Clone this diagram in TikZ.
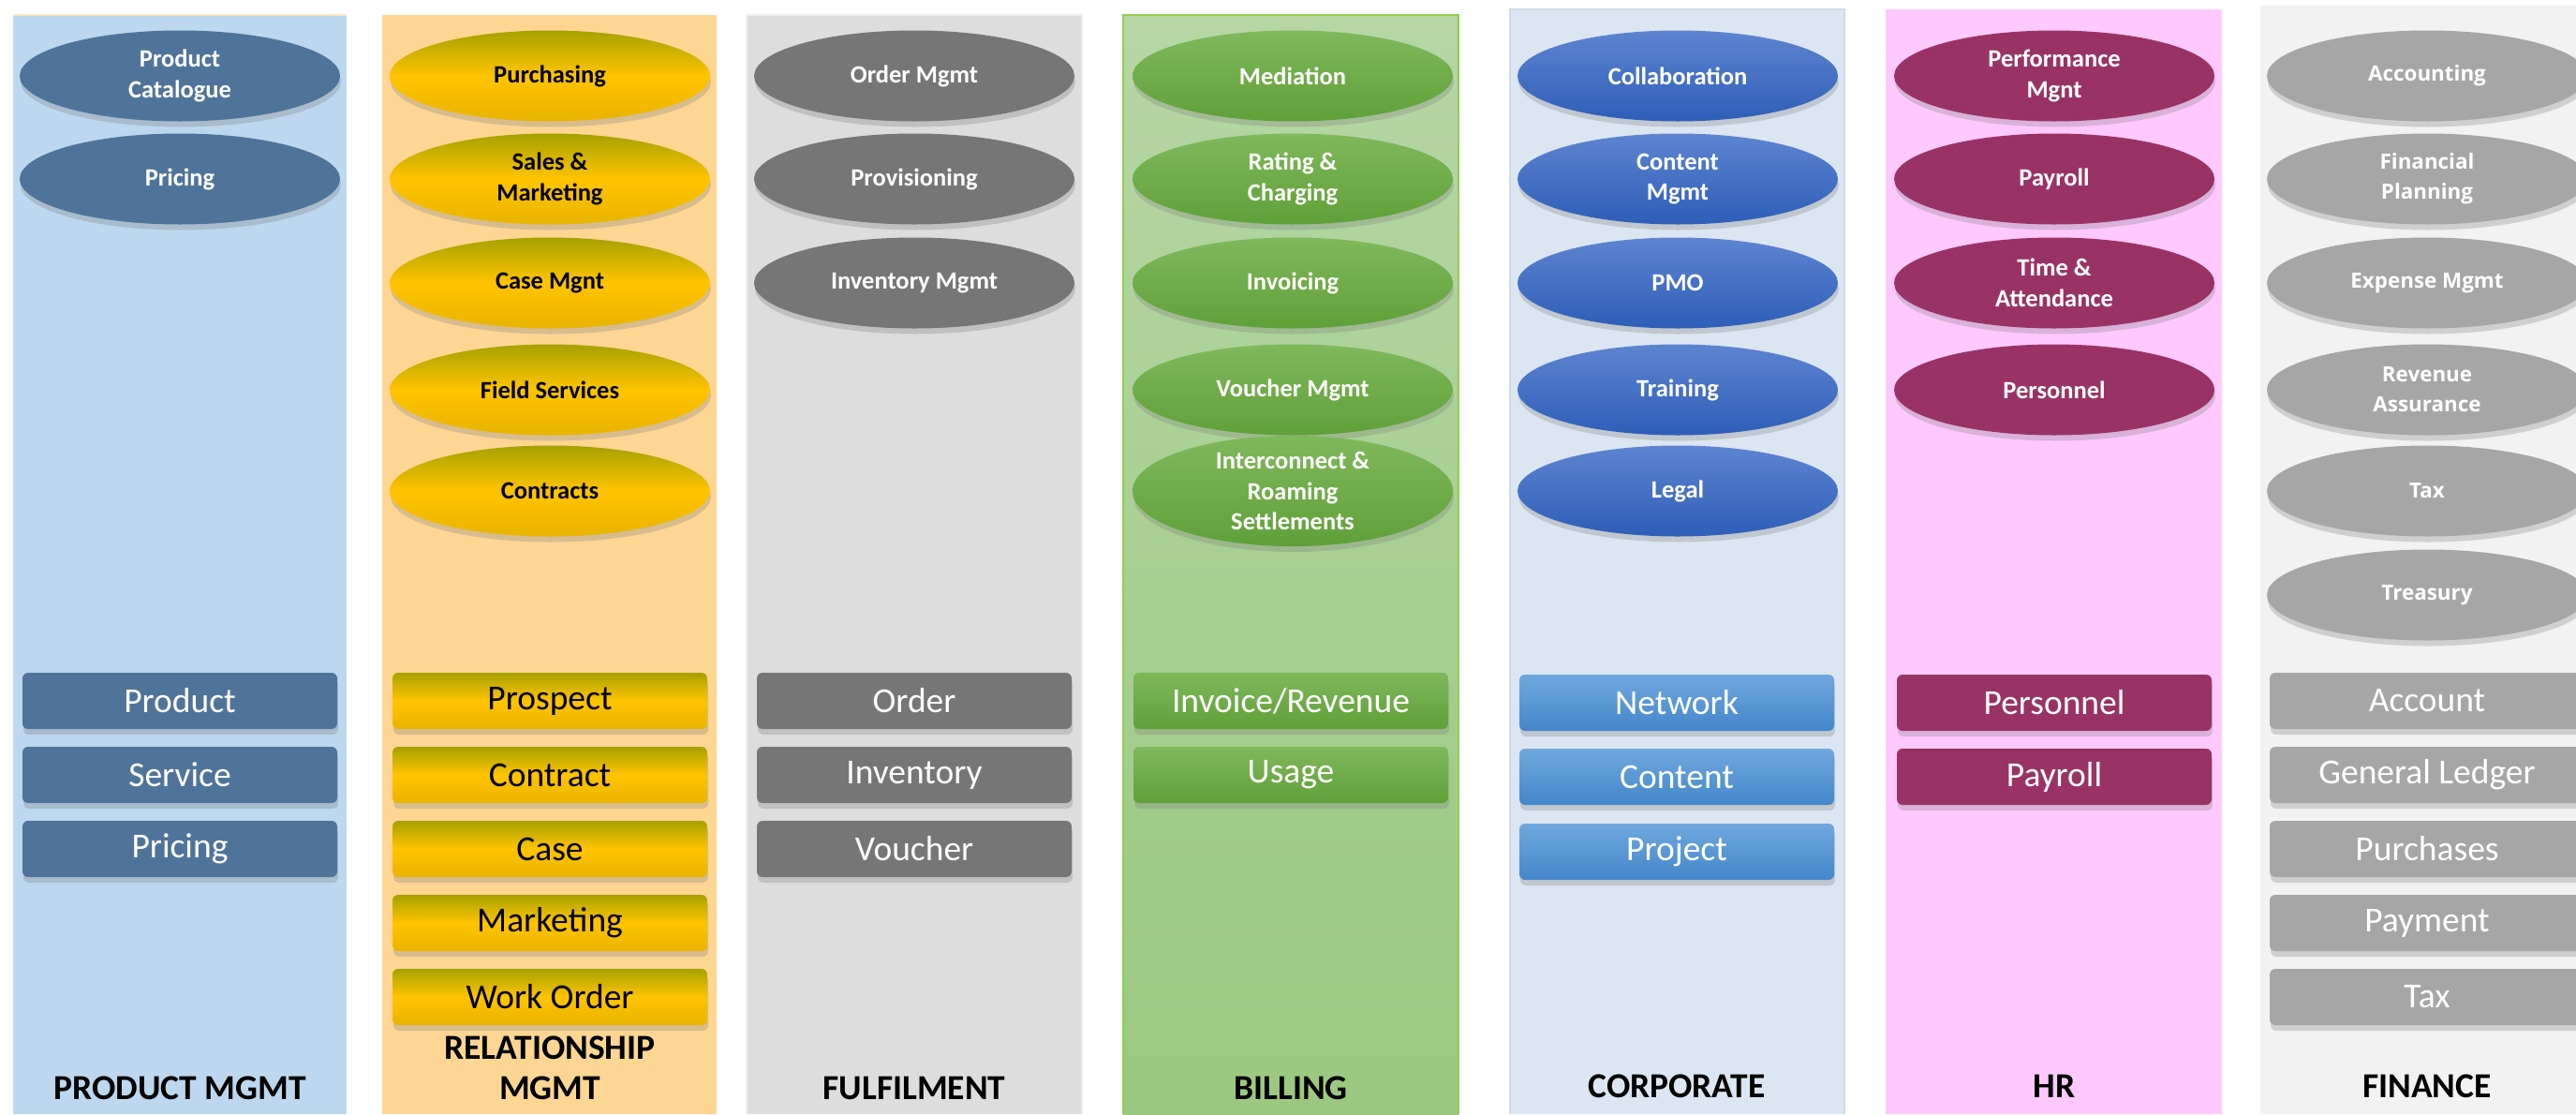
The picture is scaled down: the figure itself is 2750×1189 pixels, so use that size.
\documentclass[tikz,border=0pt]{standalone}
\usepackage{fontspec}
\setmainfont{Carlito}
\newfontfamily\finfont{Open Sans}
\usetikzlibrary{shapes.geometric,shadows}
\definecolor{pmbg}{RGB}{189,215,238}
\definecolor{pmfg}{RGB}{80,116,153}
\definecolor{rmbg}{RGB}{253,214,148}
\definecolor{rmtop}{RGB}{166,162,0}
\definecolor{rmmid}{RGB}{255,196,0}
\definecolor{rmbot}{RGB}{233,180,0}
\definecolor{fubg}{RGB}{221,221,221}
\definecolor{fufg}{RGB}{118,118,118}
\definecolor{bitop}{RGB}{182,214,166}
\definecolor{bibot}{RGB}{155,200,128}
\definecolor{biborder}{RGB}{146,208,80}
\definecolor{eltop}{RGB}{128,184,92}
\definecolor{elbot}{RGB}{96,160,56}
\definecolor{cobg}{RGB}{220,230,242}
\definecolor{coborder}{RGB}{210,218,228}
\definecolor{cotop}{RGB}{94,132,208}
\definecolor{cobot}{RGB}{46,94,184}
\definecolor{crtop}{RGB}{112,168,222}
\definecolor{crbot}{RGB}{68,134,202}
\definecolor{hrbg}{RGB}{255,201,255}
\definecolor{hrfg}{RGB}{153,51,102}
\definecolor{fibg}{RGB}{242,242,242}
\definecolor{fifg}{RGB}{166,166,166}
\tikzset{
  ellbase/.style={ellipse, minimum width=171pt, minimum height=48.5pt, inner sep=0pt,
    align=center, font=\bfseries\fontsize{13.25}{16.25}\selectfont, text=white,
    drop shadow={opacity=0.3, shadow xshift=0.5pt, shadow yshift=-3pt}},
  recbase/.style={rectangle, rounded corners=3pt, minimum width=168pt, minimum height=30pt,
    inner sep=0pt, align=center, font=\fontsize{18.75}{22}\selectfont, text=white,
    drop shadow={opacity=0.3, shadow xshift=0.5pt, shadow yshift=-3pt}},
  collabel/.style={align=center, font=\bfseries\fontsize{18.75}{21.5}\selectfont, text=black},
  pmE/.style={ellbase, fill=pmfg},
  pmR/.style={recbase, fill=pmfg},
  rmE/.style={ellbase, text=black, top color=rmtop, bottom color=rmbot, middle color=rmmid},
  rmR/.style={recbase, text=black, top color=rmtop, bottom color=rmbot, middle color=rmmid},
  fuE/.style={ellbase, fill=fufg},
  fuR/.style={recbase, fill=fufg},
  biE/.style={ellbase, top color=eltop, bottom color=elbot},
  biR/.style={recbase, top color=eltop, bottom color=elbot},
  coE/.style={ellbase, top color=cotop, bottom color=cobot},
  coR/.style={recbase, top color=crtop, bottom color=crbot},
  hrE/.style={ellbase, fill=hrfg},
  hrR/.style={recbase, fill=hrfg},
  fiE/.style={ellbase, fill=fifg, font=\finfont\bfseries\fontsize{11.2}{16}\selectfont},
  fiR/.style={recbase, fill=fifg},
}
\begin{document}
\begin{tikzpicture}[x=0.5pt,y=-0.5pt]
\useasboundingbox (0,0) rectangle (2750,1189);
\fill[white] (0,0) rectangle (2750,1189);
% column backgrounds
\fill[pmbg] (14,16) rectangle (370,1189);
\draw[line width=0.8pt, draw=rmbg!60] (14,16) -- (370,16);
\fill[rmbg] (408,16) rectangle (765,1189);
\fill[fubg] (797,16) rectangle (1155,1189);
\draw[line width=0.8pt, draw=fubg!50!white] (797,1189) -- (797,16) -- (1155,16) -- (1155,1189);
\shade[top color=bitop, bottom color=bibot] (1199,16) rectangle (1557,1189);
\draw[line width=1pt, draw=biborder] (1199,1189) -- (1199,16) -- (1557,16) -- (1557,1189);
\fill[cobg] (1612,10) rectangle (1969,1189);
\draw[line width=0.8pt, draw=coborder] (1612,1189) -- (1612,10) -- (1969,10) -- (1969,1189);
\fill[hrbg] (2013,10) rectangle (2372,1189);
\fill[fibg] (2413,6) rectangle (2769,1189);

% PRODUCT MGMT
\node[pmE] (pmA) at (192,81) {Product\\Catalogue};
\node[pmE] (pmB) at (192,191) {Pricing};
\node[pmR] (pmR1) at (192,748) {Product};
\node[pmR] (pmR2) at (192,827) {Service};
\node[pmR] (pmR3) at (192,906) {Pricing};
\node[collabel] (pmL) at (192,1161) {PRODUCT MGMT};

% RELATIONSHIP MGMT
\node[rmE] (rmA) at (587,81) {Purchasing};
\node[rmE] (rmB) at (587,191) {Sales \&\\Marketing};
\node[rmE] (rmC) at (587,302) {Case Mgnt};
\node[rmE] (rmD) at (587,416) {Field Services};
\node[rmE] (rmF) at (587,524) {Contracts};
\node[rmR] (rmR1) at (587,748) {Prospect};
\node[rmR] (rmR2) at (587,827) {Contract};
\node[rmR] (rmR3) at (587,906) {Case};
\node[rmR] (rmR4) at (587,985) {Marketing};
\node[rmR] (rmR5) at (587,1064) {Work Order};
\node[collabel] (rmL) at (587,1140) {RELATIONSHIP\\MGMT};

% FULFILMENT
\node[fuE] (fuA) at (976,81) {Order Mgmt};
\node[fuE] (fuB) at (976,191) {Provisioning};
\node[fuE] (fuC) at (976,302) {Inventory Mgmt};
\node[fuR] (fuR1) at (976,748) {Order};
\node[fuR] (fuR2) at (976,827) {Inventory};
\node[fuR] (fuR3) at (976,906) {Voucher};
\node[collabel] (fuL) at (976,1161) {FULFILMENT};

% BILLING
\node[biE] (biA) at (1380,81) {Mediation};
\node[biE] (biB) at (1380,191) {Rating \&\\Charging};
\node[biE] (biC) at (1380,302) {Invoicing};
\node[biE] (biD) at (1380,416) {Voucher Mgmt};
\node[biE] (biF) at (1380,524) {Interconnect \&\\Roaming\\Settlements};
\node[biR] (biR1) at (1378,748) {Invoice/Revenue};
\node[biR] (biR2) at (1378,827) {Usage};
\node[collabel] (biL) at (1378,1161) {BILLING};

% CORPORATE
\node[coE] (coA) at (1791,81) {Collaboration};
\node[coE] (coB) at (1791,191) {Content\\Mgmt};
\node[coE] (coC) at (1791,302) {PMO};
\node[coE] (coD) at (1791,416) {Training};
\node[coE] (coF) at (1791,524) {Legal};
\node[coR] (coR1) at (1790,750) {Network};
\node[coR] (coR2) at (1790,829) {Content};
\node[coR] (coR3) at (1790,909) {Project};
\node[collabel] (coL) at (1790,1159) {CORPORATE};

% HR
\node[hrE] (hrA) at (2193,81) {Performance\\Mgnt};
\node[hrE] (hrB) at (2193,191) {Payroll};
\node[hrE] (hrC) at (2193,302) {Time \&\\Attendance};
\node[hrE] (hrD) at (2193,416) {Personnel};
\node[hrR] (hrR1) at (2193,750) {Personnel};
\node[hrR] (hrR2) at (2193,829) {Payroll};
\node[collabel] (hrL) at (2193,1159) {HR};

% FINANCE
\node[fiE] (fiA) at (2591,81) {Accounting};
\node[fiE] (fiB) at (2591,191) {Financial\\Planning};
\node[fiE] (fiC) at (2591,302) {Expense Mgmt};
\node[fiE] (fiD) at (2591,416) {Revenue\\Assurance};
\node[fiE] (fiF) at (2591,524) {Tax};
\node[fiE] (fiG) at (2591,635) {Treasury};
\node[fiR] (fiR1) at (2591,748) {Account};
\node[fiR] (fiR2) at (2591,827) {General Ledger};
\node[fiR] (fiR3) at (2591,906) {Purchases};
\node[fiR] (fiR4) at (2591,985) {Payment};
\node[fiR] (fiR5) at (2591,1064) {Tax};
\node[collabel] (fiL) at (2591,1159) {FINANCE};
\end{tikzpicture}
\end{document}
